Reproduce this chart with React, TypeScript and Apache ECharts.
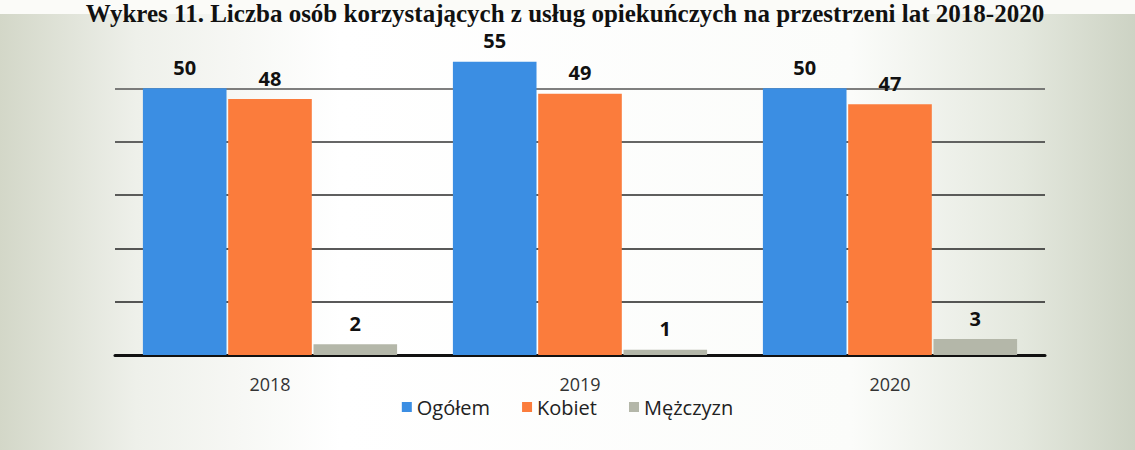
import React, { useEffect, useRef } from "react";
import * as echarts from "echarts";

const titleText = "Wykres 11. Liczba osób korzystających z usług opiekuńczych na przestrzeni lat 2018-2020";
const categories = ["2018", "2019", "2020"];
const seriesNames = ["Ogółem", "Kobiet", "Mężczyzn"];
const ogolem = [50, 55, 50];
const kobiet = [48, 49, 47];
const mezczyzn = [2, 1, 3];
const colors = ["#3b8ee3", "#fb7c3c", "#b4b7a9"];

export default function App() {
  const ref = useRef<HTMLDivElement>(null);
  useEffect(() => {
    if (!ref.current) return;
    const chart = echarts.init(ref.current, null, { renderer: "svg" });
    const values = [ogolem, kobiet, mezczyzn];
    chart.setOption({
      animation: false,
      backgroundColor: {
        type: "linear", x: 0, y: 0, x2: 1, y2: 0,
        colorStops: [
          { offset: 0, color: "#d3d7c8" },
          { offset: 0.12, color: "#eef0ea" },
          { offset: 0.3, color: "#ffffff" },
          { offset: 0.75, color: "#fbfcfa" },
          { offset: 0.9, color: "#e4e8de" },
          { offset: 1, color: "#cdd3c4" },
        ],
      },
      graphic: [
        {
          type: "rect",
          shape: { x: 0, y: 0, width: 1135, height: 14 },
          style: { fill: "#fbfbf8" },
          silent: true,
        },
        {
          type: "text",
          x: 565,
          y: 26,
          style: {
            text: titleText,
            fill: "#111",
            font: "bold 25px 'Liberation Serif', serif",
            textAlign: "center",
            textVerticalAlign: "bottom",
          },
        },
      ],
      legend: {
        data: seriesNames,
        bottom: 28,
        left: "center",
        itemWidth: 10,
        itemHeight: 10,
        itemGap: 32,
        icon: "rect",
        textStyle: { fontSize: 20, color: "#222", fontFamily: "'Open Sans', sans-serif" },
      },
      grid: { left: 115, right: 90, top: 35, height: 320 },
      xAxis: {
        type: "category",
        data: categories,
        axisLine: { show: true, lineStyle: { color: "#111", width: 3 } },
        axisTick: { show: false },
        axisLabel: { fontSize: 18, color: "#333", margin: 20, fontFamily: "'Open Sans', sans-serif" },
      },
      yAxis: {
        type: "value",
        min: 0,
        max: 60,
        interval: 10,
        axisLabel: { show: false },
        axisLine: { show: false },
        axisTick: { show: false },
        splitLine: {
          show: true,
          lineStyle: {
            color: ["#111", "#222", "#222", "#2a2a2a", "#333", "#555", "rgba(0,0,0,0)"],
            width: 1.5,
          },
        },
      },
      series: seriesNames.map((name, i) => ({
        name,
        type: "bar",
        data: values[i],
        barGap: "2%",
        barCategoryGap: "18%",
        itemStyle: { color: colors[i] },
        label: {
          show: true,
          position: "top",
          distance: 11,
          fontSize: 20,
          fontWeight: "bold",
          color: "#111",
          fontFamily: "'Open Sans', sans-serif",
        },
      })),
    });
    return () => chart.dispose();
  }, []);
  return (
    <div
      ref={ref}
      style={{ position: "fixed", left: 0, top: 0, width: 1135, height: 450 }}
    />
  );
}
